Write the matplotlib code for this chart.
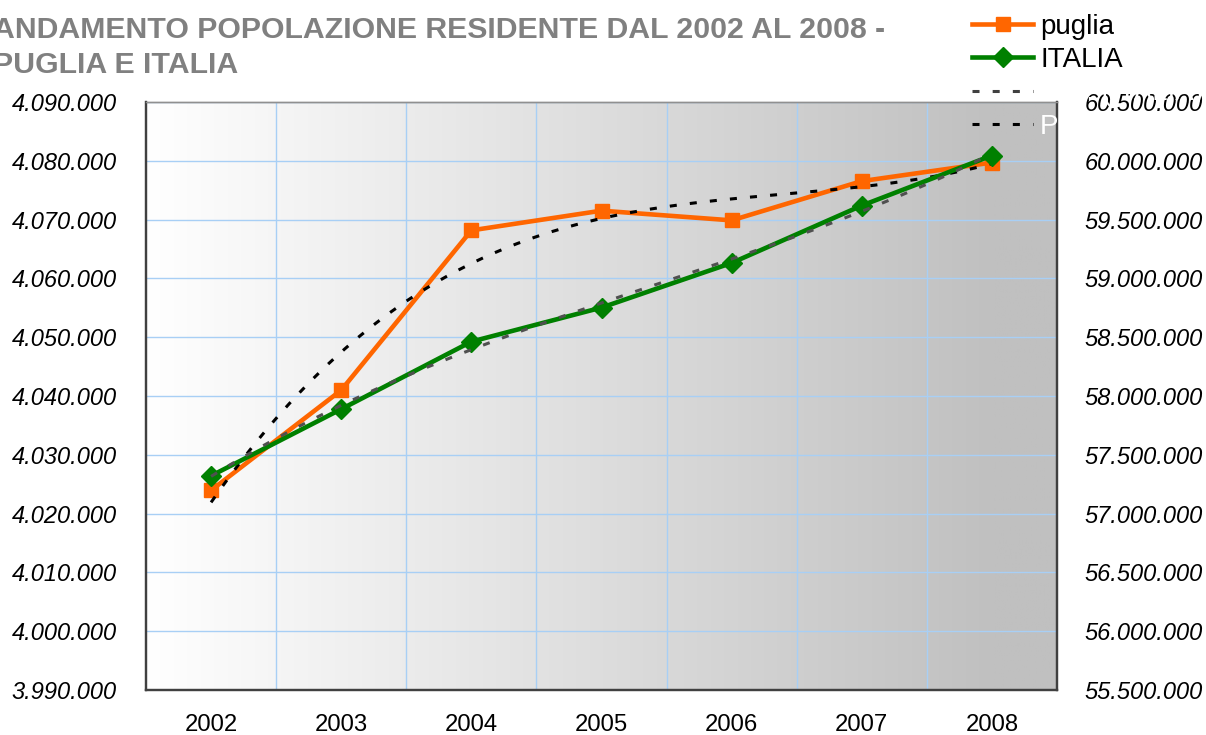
import numpy as np
import matplotlib
matplotlib.use('Agg')
import matplotlib.pyplot as plt
from matplotlib.lines import Line2D

plt.rcParams['font.family'] = ['Liberation Sans', 'DejaVu Sans']

# dati popolazione residente (1 gennaio)
anni = [2002, 2003, 2004, 2005, 2006, 2007, 2008]
puglia = [4023957, 4040990, 4068167, 4071518, 4069869, 4076546, 4079702]
italia = [57321070, 57888245, 58462375, 58751711, 59131287, 59619290, 60045068]

ticks_sx = [3990000, 4000000, 4010000, 4020000, 4030000, 4040000,
            4050000, 4060000, 4070000, 4080000, 4090000]
ticks_dx = [55500000, 56000000, 56500000, 57000000, 57500000, 58000000,
            58500000, 59000000, 59500000, 60000000, 60500000]

titolo = 'ANDAMENTO POPOLAZIONE RESIDENTE DAL 2002 AL 2008 -\nPUGLIA E ITALIA'
legenda = ['puglia', 'ITALIA', 'Poli. (ITALIA)', 'Poli. (puglia)']


def fmt(v):
    return f"{v:,.0f}".replace(',', '.')


W, H = 1206, 735
fig = plt.figure(figsize=(W / 100, H / 100), dpi=100)
ax = fig.add_axes([146 / W, 1 - 690 / H, (1057 - 146) / W, (690 - 102) / H])
ax2 = ax.twinx()

# sfondo sfumato
t = np.linspace(0, 1, 400)
v = np.clip(255 - 63 * t / 0.93, 192, 255) / 255
grad = np.dstack([v, v, v]).repeat(2, axis=0)
ax.imshow(grad, extent=[0, 1, 0, 1], transform=ax.transAxes, aspect='auto', zorder=0)

x = np.array(anni, dtype=float)
xx = np.linspace(x[0], x[-1], 200)

# trend polinomiali
p_pu = np.polyfit(x - 2001, puglia, 3)
p_it = np.polyfit(x - 2001, italia, 3)

ax.plot(x, puglia, color='#ff6600', lw=3.3, marker='s', ms=9.5, zorder=3)
ax.plot(xx, np.polyval(p_pu, xx - 2001), color='black', lw=2.2,
        linestyle=(0, (2.3, 4.3)), zorder=4)
ax2.plot(x, italia, color='#008000', lw=3.3, marker='D', ms=10.5, zorder=3)
ax2.plot(xx, np.polyval(p_it, xx - 2001), color='#505050', lw=2.2,
         linestyle=(0, (2.3, 4.3)), zorder=4)

ax.set_xlim(2001.5, 2008.5)
ax.set_ylim(3990000, 4090000)
ax2.set_ylim(55500000, 60500000)

ax.set_xticks(anni)
ax.set_xticklabels([str(a) for a in anni], fontsize=17.2)
ax.set_xticks([a + 0.5 for a in anni[:-1]], minor=True)
ax.set_yticks(ticks_sx)
ax.set_yticklabels([fmt(v) for v in ticks_sx], fontsize=17, fontstyle='italic')
ax2.set_yticks(ticks_dx)
ax2.set_yticklabels([fmt(v) for v in ticks_dx], fontsize=17, fontstyle='italic')

ax.tick_params(axis='x', which='both', length=0, pad=17)
ax.tick_params(axis='y', length=0, pad=21)
ax2.tick_params(axis='y', length=0, pad=20)

ax.set_axisbelow(True)
ax.grid(True, axis='y', which='major', color='#a8cff5', lw=1)
ax.grid(True, axis='x', which='minor', color='#a8cff5', lw=1)

for a in (ax, ax2):
    for s in ('left', 'right', 'bottom'):
        a.spines[s].set_color('#404040')
        a.spines[s].set_linewidth(1.6)
    a.spines['top'].set_color('#909090')
    a.spines['top'].set_linewidth(1)

fig.text(-7 / W, 1 - 16 / H, titolo, ha='left', va='top', fontsize=21.8,
         fontweight='bold', color='#808080', linespacing=1.32)

handles = [
    Line2D([], [], color='#ff6600', lw=3.3, marker='s', ms=9.5),
    Line2D([], [], color='#008000', lw=3.3, marker='D', ms=10.5),
    Line2D([], [], color='#404040', lw=2.2, linestyle=(0, (2.3, 4.3))),
    Line2D([], [], color='black', lw=2.2, linestyle=(0, (2.3, 4.3))),
]
leg = ax2.legend(handles, legenda, loc='upper left',
                 bbox_to_anchor=(972 / W, 1 - 14 / H), bbox_transform=fig.transFigure,
                 frameon=False, fontsize=20, handlelength=2.2, handletextpad=0.25,
                 labelspacing=0.26, borderpad=0, borderaxespad=0)
for i, txt in enumerate(leg.get_texts()):
    if i >= 2:
        txt.set_color('white')

plt.savefig('out.png', dpi=100)
plt.close()
